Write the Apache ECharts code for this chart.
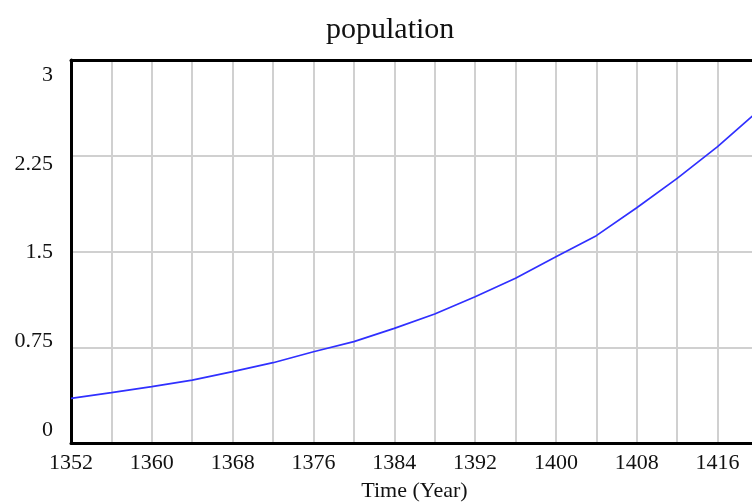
<!DOCTYPE html>
<html>
<head>
<meta charset="utf-8">
<script src="https://cdn.jsdelivr.net/npm/echarts@6/dist/echarts.min.js"></script>
<style>
  html, body { margin: 0; padding: 0; background: #fff; }
  #main { width: 752px; height: 504px; }
</style>
</head>
<body>
<div id="main"></div>
<script>
// values, every 4 years
var years = [1352, 1356, 1360, 1364, 1368, 1372, 1376, 1380, 1384, 1388, 1392, 1396, 1400, 1404, 1408, 1412, 1416, 1420];
var population = [0.35, 0.394, 0.441, 0.493, 0.559, 0.629, 0.715, 0.794, 0.898, 1.01, 1.146, 1.29, 1.459, 1.624, 1.843, 2.073, 2.321, 2.6];
var yTicks = [0, 0.75, 1.5, 2.25, 3];

var serif = 'Liberation Serif';
var chart = echarts.init(document.getElementById('main'));

var points = [];
for (var i = 0; i < years.length; i++) {
    points.push([years[i], population[i]]);
}

var option = {
    backgroundColor: '#fff',
    animation: false,
    title: {
        text: 'population',
        left: 321,
        top: 10,
        textStyle: { fontFamily: serif, fontSize: 30, fontWeight: 'normal', color: '#111' }
    },
    grid: {
        left: 71,
        top: 60,
        right: -6,
        bottom: 61,
        containLabel: false,
        outerBoundsMode: 'none'
    },
    xAxis: [
        {
            type: 'value',
            position: 'bottom',
            min: 1352,
            max: 1420,
            interval: 4,
            name: 'Time (Year)',
            nameLocation: 'middle',
            nameGap: 37,
            nameTextStyle: { fontFamily: serif, fontSize: 22, color: '#111' },
            axisLine: { show: true, lineStyle: { color: '#000', width: 3 } },
            axisTick: { show: false },
            axisLabel: {
                margin: 9,
                fontFamily: serif,
                fontSize: 22,
                color: '#111',
                formatter: function (v) {
                    return (v - 1352) % 8 === 0 ? String(v) : '';
                }
            },
            splitLine: { show: true, showMinLine: false, lineStyle: { color: '#d0d0d0', width: 2 } }
        },
        {
            // top frame line
            type: 'value',
            position: 'top',
            min: 1352,
            max: 1420,
            z: 5,
            axisLine: { show: true, onZero: false, lineStyle: { color: '#000', width: 3 } },
            axisTick: { show: false },
            axisLabel: { show: false },
            splitLine: { show: false }
        }
    ],
    yAxis: [
        {
            type: 'value',
            position: 'left',
            min: 0,
            max: 3,
            interval: 0.75,
            axisLine: { show: true, lineStyle: { color: '#000', width: 3 } },
            axisTick: { show: false },
            axisLabel: { show: false },
            splitLine: { show: true, showMinLine: false, showMaxLine: false, lineStyle: { color: '#d0d0d0', width: 2 } }
        },
        {
            // label-only axis: Vensim spreads the labels a bit inside the plot range
            type: 'value',
            position: 'left',
            min: -0.10986,
            max: 3.12676,
            axisLine: { show: false },
            axisTick: { show: false },
            splitLine: { show: false },
            axisLabel: {
                customValues: yTicks,
                margin: 18,
                fontFamily: serif,
                fontSize: 22,
                color: '#111'
            }
        }
    ],
    series: [
        {
            name: 'population',
            type: 'line',
            xAxisIndex: 0,
            yAxisIndex: 0,
            data: points,
            showSymbol: false,
            lineStyle: { color: '#3030ff', width: 1.7 }
        }
    ]
};

chart.setOption(option);
</script>
</body>
</html>
